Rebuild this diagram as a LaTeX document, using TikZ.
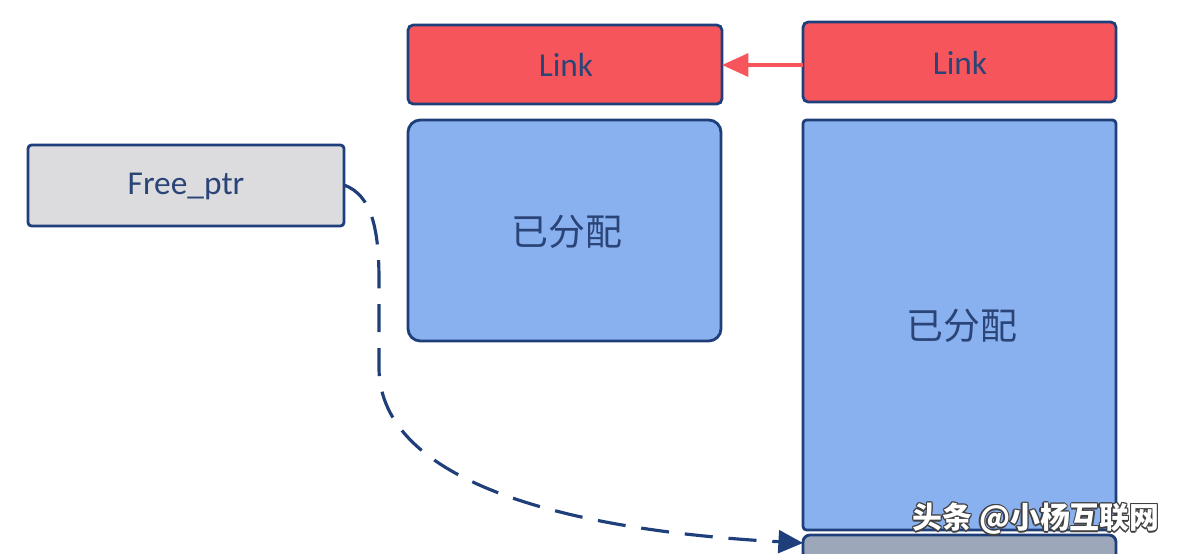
\documentclass[tikz,border=0pt]{standalone}
\usepackage{fontspec}
\setmainfont{Carlito}
\newfontfamily\cjk{Noto Sans CJK SC}
\usetikzlibrary{arrows.meta}
\definecolor{edge}{HTML}{1F3F7A}
\definecolor{txt}{HTML}{2A4478}
\definecolor{linkred}{HTML}{F6565B}
\definecolor{memblue}{HTML}{8AB1EF}
\definecolor{ptrgray}{HTML}{DCDCDE}
\definecolor{botgray}{HTML}{9CA8BA}
\tikzset{
  box/.style={draw=edge, line width=1.6pt, rounded corners=3pt},
  linkbox/.style={box, fill=linkred},
  membox/.style={box, fill=memblue, rounded corners=7pt},
  ptrbox/.style={box, fill=ptrgray, rounded corners=2pt},
  lbl/.style={text=txt, font=\fontsize{19}{21}\selectfont},
  cjklbl/.style={text=txt, font=\cjk\fontsize{21}{23}\selectfont},
}
\begin{document}
\begin{tikzpicture}[x=0.02cm, y=-0.02cm]
\useasboundingbox (0,0) rectangle (1178,554);
% boxes
\draw[linkbox] (408,25) rectangle (722,104);
\node[lbl] (link1) at (566,65) {Link};
\draw[linkbox] (803,22) rectangle (1116,102);
\node[lbl] (link2) at (960,63) {Link};
\draw[membox] (408,120) rectangle (721,341);
\node[cjklbl] (mem1) at (567,232) {已分配};
\draw[membox, rounded corners=2pt] (803,120) rectangle (1116,530);
\node[cjklbl] (mem2) at (962,326) {已分配};
\draw[box, fill=botgray, rounded corners=4pt] (803,535) -- (803,560) -- (1116,560) -- (1116,535) -- cycle;
\coordinate (bot) at (803,543);
\draw[ptrbox] (28,145) rectangle (344,226);
\node[lbl] (ptr) at (186,186) {Free\_ptr};
% connectors
\coordinate (l1e) at (722,65);
\coordinate (l2w) at (803,65);
\draw[linkred, line width=2.2pt, -{Triangle[length=15pt,width=13pt]}] (l2w) -- (l1e);
\coordinate (ptre) at (344,185);
\draw[edge, line width=1.8pt, dash pattern=on 16pt off 9pt, -{Triangle[length=14pt,width=13pt]}]
  (ptre) .. controls (372,195) and (379,230) .. (379,280)
  -- (379,370) .. controls (382,480) and (560,530) .. (bot);
% watermark
\foreach \dx/\dy in {-1.2/0,1.2/0,0/-1.2,0/1.2,-0.9/-0.9,0.9/0.9,-0.9/0.9,0.9/-0.9}
  \node[text=black!75, font=\cjk\bfseries\fontsize{17}{19}\selectfont] at (1036+\dx,519+\dy) {头条 @小杨互联网};
\node[text=white, font=\cjk\bfseries\fontsize{17}{19}\selectfont] (wm) at (1036,519) {头条 @小杨互联网};
\end{tikzpicture}
\end{document}
